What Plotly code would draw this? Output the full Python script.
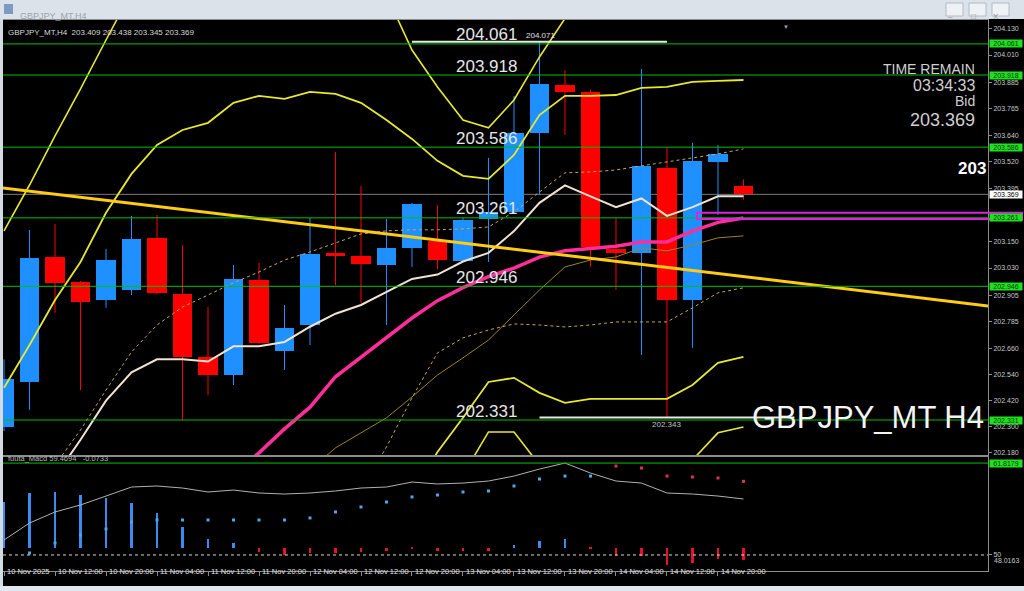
import plotly.graph_objects as go

# ---------------- data (H4 bars, index 0 = 10 Nov 04:00) ----------------
bar_index = list(range(30))
opens  = [202.300, 202.506, 203.081, 202.966, 202.883, 202.929, 203.169, 202.911, 202.621, 202.538,
          202.975, 202.649, 202.768, 203.100, 203.086, 203.044, 203.123, 203.155, 203.063, 203.256,
          203.288, 203.652, 203.872, 203.840, 203.118, 203.100, 203.491, 202.883, 203.518, 203.409]
highs  = [202.610, 203.205, 203.233, 202.970, 203.118, 203.270, 203.274, 203.136, 202.851, 203.044,
          203.054, 202.860, 203.261, 203.564, 203.408, 203.256, 203.330, 203.320, 203.260, 203.537,
          203.822, 204.071, 203.941, 203.850, 203.261, 203.946, 203.583, 203.606, 203.596, 203.438]
lows   = [202.280, 202.378, 202.824, 202.469, 202.847, 202.906, 202.910, 202.331, 202.446, 202.492,
          202.680, 202.561, 202.676, 202.952, 202.870, 202.768, 203.035, 203.026, 203.060, 203.058,
          203.280, 203.366, 203.642, 203.035, 202.929, 202.630, 202.343, 202.663, 203.274, 203.345]
closes = [202.520, 203.077, 202.962, 202.874, 203.067, 203.164, 202.916, 202.621, 202.538, 202.980,
          202.686, 202.755, 203.095, 203.086, 203.049, 203.123, 203.325, 203.067, 203.251, 203.288,
          203.652, 203.877, 203.840, 203.127, 203.100, 203.500, 202.883, 203.523, 203.555, 203.369]

ma_fast = [None, None, 202.07, 202.24, 202.42, 202.55, 202.61, 202.61, 202.60, 202.67,
           202.67, 202.69, 202.76, 202.82, 202.86, 202.92, 202.98, 203.00, 203.06, 203.10,
           203.20, 203.33, 203.41, 203.36, 203.31, 203.35, 203.27, 203.31, 203.36, 203.36]
ma_slow = [None] * 9 + [202.08, 202.18, 202.29, 202.39, 202.53, 202.62, 202.71, 202.80, 202.88, 202.94,
                        202.99, 203.03, 203.08, 203.11, 203.12, 203.13, 203.15, 203.15, 203.20, 203.24, 203.26]
ma_long = [None] * 12 + [202.101, 202.203, 202.272, 202.341, 202.437, 202.538, 202.617, 202.699,
                         202.814, 202.929, 203.035, 203.067, 203.081, 203.123, 203.109, 203.136,
                         203.169, 203.178]
band_up_inner = [202.479, 202.676, 202.883, 203.058, 203.284, 203.463, 203.596, 203.665, 203.698, 203.790,
                 203.822, 203.808, 203.840, 203.831, 203.790, 203.711, 203.624, 203.523, 203.454, 203.440,
                 203.550, 203.734, 203.822, 203.822, 203.826, 203.859, 203.863, 203.886, 203.891, 203.895]
band_dn_inner = [None] * 16 + [201.986, 202.184, 202.341, 202.506, 202.525, 202.456, 202.410, 202.428,
                               202.428, 202.428, 202.428, 202.492, 202.594, 202.621]
band_up_outer = [203.201, 203.412, 203.638, 203.854, 204.079, 204.300] + [None] * 9 + \
                [204.286, 204.033, 203.863, 203.711, 203.675, 203.803, 204.001, 204.181, 204.355] + [None] * 6
band_dn_outer = [None] * 18 + [202.078, 202.276, 202.276, 202.124] + [None] * 4 + \
                [202.009, 202.147, 202.272, 202.299]
env_up = [None, None, 202.124, 202.285, 202.469, 202.644, 202.768, 202.851, 202.906, 202.962,
          203.012, 203.067, 203.104, 203.146, 203.187, 203.201, 203.206, 203.206, 203.210, 203.219,
          203.288, 203.380, 203.468, 203.472, 203.481, 203.500, 203.518, 203.537, 203.555, 203.578]
env_dn = [None] * 14 + [202.009, 202.207, 202.433, 202.640, 202.709, 202.745, 202.773, 202.768,
                        202.759, 202.768, 202.782, 202.782, 202.782, 202.847, 202.916, 202.939]

trend_x = [-1, 39]
trend_y = [203.412, 202.850]

levels = [204.061, 203.918, 203.586, 203.261, 202.946, 202.331]
bid = 203.369
high_mark = (21, 204.071)
low_mark = (26, 202.343)
zone = (203.256, 203.284)

price_ticks = [204.130, 204.010, 203.885, 203.765, 203.640, 203.520, 203.395, 203.150,
               203.030, 202.905, 202.785, 202.660, 202.540, 202.420, 202.300, 202.180]

time_tick_index = [0, 2, 4, 6, 8, 10, 12, 14, 16, 18, 20, 22, 24, 26, 28]
time_tick_labels = ["10 Nov 2025", "10 Nov 12:00", "10 Nov 20:00", "11 Nov 04:00", "11 Nov 12:00",
                    "11 Nov 20:00", "12 Nov 04:00", "12 Nov 12:00", "12 Nov 20:00", "13 Nov 04:00",
                    "13 Nov 12:00", "13 Nov 20:00", "14 Nov 04:00", "14 Nov 12:00", "14 Nov 20:00"]

macd_signal = [51.93, 54.11, 55.53, 56.43, 57.58, 58.74, 58.87, 58.61, 58.10, 58.35,
               57.97, 57.84, 57.97, 58.23, 58.61, 58.74, 59.38, 59.13, 59.25, 59.51,
               60.15, 61.05, 61.82, 60.54, 59.51, 59.25, 57.97, 57.84, 57.58, 57.20]
macd_dots = [None, 50.26, 51.54, 52.57, 53.34, 54.24, 54.50, 54.50, 54.50, 54.50,
             54.50, 54.50, 54.76, 55.53, 56.17, 56.81, 57.46, 57.71, 58.10, 58.23,
             58.87, 59.77, 60.15, 60.15, 61.44, 61.18, 60.15, 60.03, 59.90, 59.47]
macd_hist = [56.81, 57.97, 58.10, 57.71, 57.33, 56.68, 55.40, 53.60, 52.06, 51.54,
             50.39, 50.00, 50.26, 50.26, 50.39, 50.51, 50.77, 50.51, 50.51, 50.51,
             51.29, 51.80, 52.06, 50.77, 49.87, 49.87, 48.71, 48.97, 49.49, 49.36]
macd_base = 50.96
macd_level = 61.8179
macd_mid = 50
macd_min = 48.0163

# ---------------- layout helpers (pixel -> paper) ----------------
W, H = 1024, 591
def PX(x): return x / W
def PY(y): return 1 - y / H

BLUE = "#1E90FF"
RED = "#FF0000"
GREEN = "#00C000"
AXC = "#8C8C8C"
TXT = "#C8C8C8"
FONT = "Liberation Sans, Arial, sans-serif"

fig = go.Figure()

# candle wicks
for col, cond in ((BLUE, True), (RED, False)):
    wx, wy = [], []
    for i in bar_index:
        if (closes[i] >= opens[i]) == cond:
            wx += [i, i, None]
            wy += [lows[i], highs[i], None]
    fig.add_trace(go.Scatter(x=wx, y=wy, mode="lines", line=dict(color=col, width=1),
                             hoverinfo="skip", xaxis="x", yaxis="y"))

# candle bodies
fig.add_trace(go.Bar(
    x=bar_index,
    y=[max(abs(c - o), 0.004) for o, c in zip(opens, closes)],
    base=[min(o, c) for o, c in zip(opens, closes)],
    width=0.78,
    marker=dict(color=[BLUE if c >= o else RED for o, c in zip(opens, closes)], line=dict(width=0)),
    hoverinfo="skip", xaxis="x", yaxis="y"))

def line(y, color, width, dash=None):
    fig.add_trace(go.Scatter(x=bar_index, y=y, mode="lines",
                             line=dict(color=color, width=width, dash=dash),
                             connectgaps=False, hoverinfo="skip", xaxis="x", yaxis="y"))

line(ma_long, "#9C8228", 1)
line(env_up, "#C8A55A", 1, "dot")
line(env_dn, "#C8A55A", 1, "dot")
line(band_up_outer, "#E8E830", 1.6)
line(band_dn_outer, "#E8E830", 1.6)
line(band_up_inner, "#E8E830", 1.8)
line(band_dn_inner, "#E8E830", 1.8)
line(ma_fast, "#F2E2D2", 2)
line(ma_slow, "#FF2E9A", 3.5)

# trend line
fig.add_trace(go.Scatter(x=trend_x, y=trend_y, mode="lines", line=dict(color="#FFCC14", width=3),
                         hoverinfo="skip", xaxis="x", yaxis="y"))

# high / low markers
fig.add_trace(go.Scatter(x=[high_mark[0] - 5, high_mark[0] + 5], y=[high_mark[1]] * 2, mode="lines",
                         line=dict(color="#E8E8E8", width=2), hoverinfo="skip", xaxis="x", yaxis="y"))
fig.add_trace(go.Scatter(x=[low_mark[0] - 5, low_mark[0] + 5], y=[low_mark[1]] * 2, mode="lines",
                         line=dict(color="#E8E8E8", width=2), hoverinfo="skip", xaxis="x", yaxis="y"))

# MACD panel
fig.add_trace(go.Bar(
    x=bar_index, y=[h - macd_base for h in macd_hist], base=[macd_base] * len(macd_hist), width=0.1,
    marker=dict(color=["#3C8CF0" if h > macd_base else "#E8102A" for h in macd_hist], line=dict(width=0)),
    hoverinfo="skip", xaxis="x2", yaxis="y2"))
fig.add_trace(go.Scatter(x=bar_index, y=macd_signal, mode="lines", line=dict(color="#B0B0B0", width=1),
                         hoverinfo="skip", xaxis="x2", yaxis="y2"))
fig.add_trace(go.Scatter(
    x=bar_index, y=macd_dots, mode="markers",
    marker=dict(symbol="square", size=3,
                color=["#E0305A" if (d is not None and d > s) else "#4AA8E8" for d, s in zip(macd_dots, macd_signal)]),
    hoverinfo="skip", xaxis="x2", yaxis="y2"))

shapes = []
# window chrome
shapes.append(dict(type="rect", xref="paper", yref="paper", x0=0, x1=1, y0=PY(19), y1=1,
                   fillcolor="#DCE2EA", line=dict(width=0), layer="above"))
shapes.append(dict(type="rect", xref="paper", yref="paper", x0=PX(4), x1=PX(13), y0=PY(14), y1=PY(4),
                   fillcolor="#7C9AC4", line=dict(width=0), layer="above"))
for bx in (946, 969, 992):
    shapes.append(dict(type="rect", xref="paper", yref="paper", x0=PX(bx), x1=PX(bx + 17), y0=PY(16), y1=PY(3),
                       fillcolor="#EEF1F5", line=dict(color="#B4BAC4", width=1), layer="above"))
shapes.append(dict(type="rect", xref="paper", yref="paper", x0=0, x1=PX(3), y0=0, y1=PY(19),
                   fillcolor="#D4DAE2", line=dict(width=0), layer="above"))
shapes.append(dict(type="rect", xref="paper", yref="paper", x0=0, x1=1, y0=0, y1=PY(586),
                   fillcolor="#E2E8F0", line=dict(width=0), layer="above"))
# panel separator
shapes.append(dict(type="line", xref="paper", yref="paper", x0=PX(3), x1=PX(988), y0=PY(456), y1=PY(456),
                   line=dict(color=AXC, width=2), layer="above"))
# level lines
for lv in levels:
    shapes.append(dict(type="line", xref="paper", yref="y", x0=PX(3), x1=PX(988), y0=lv, y1=lv,
                       line=dict(color=GREEN, width=1), layer="above"))
# bid line
shapes.append(dict(type="line", xref="paper", yref="y", x0=PX(3), x1=PX(988), y0=bid, y1=bid,
                   line=dict(color="#7A7A7A", width=1), layer="below"))
# magenta zone
shapes.append(dict(type="rect", xref="paper", yref="y", x0=PX(697), x1=PX(1022), y0=zone[0], y1=zone[1],
                   line=dict(color="#E020E0", width=2), layer="above"))
# macd levels
shapes.append(dict(type="line", xref="paper", yref="y2", x0=PX(3), x1=PX(988), y0=macd_level, y1=macd_level,
                   line=dict(color=GREEN, width=1), layer="above"))
shapes.append(dict(type="line", xref="paper", yref="y2", x0=PX(3), x1=PX(988), y0=macd_mid, y1=macd_mid,
                   line=dict(color="#D8D8D8", width=1, dash="dot"), layer="above"))

ann = []
# title bar text
ann.append(dict(xref="paper", yref="paper", x=PX(18), y=PY(9), text="GBPJPY_MT,H4", showarrow=False,
                xanchor="left", font=dict(family=FONT, size=9, color="#9CA3AE")))
for bx, g in ((946, "–"), (969, "□"), (992, "X")):
    ann.append(dict(xref="paper", yref="paper", x=PX(bx + 8.5), y=PY(9.5), text=g, showarrow=False,
                    font=dict(family=FONT, size=8, color="#8A909A")))
# header
ann.append(dict(xref="paper", yref="paper", x=PX(6), y=PY(26),
                text="GBPJPY_MT,H4  203.409 203.438 203.345 203.369", showarrow=False, xanchor="left",
                font=dict(family=FONT, size=8, color="#D8D8D8")))
ann.append(dict(xref="paper", yref="paper", x=PX(791), y=PY(22), text="▼", showarrow=False,
                font=dict(family=FONT, size=6, color="#A0A0A0")))
# big level labels
for lv in levels:
    ann.append(dict(xref="paper", yref="y", x=PX(486), y=lv, yshift=9, text=f"{lv:.3f}", showarrow=False,
                    font=dict(family=FONT, size=17, color="#E6E6E6")))
# high / low labels
ann.append(dict(xref="x", yref="y", x=high_mark[0] - 0.6, y=high_mark[1], yshift=6, text=f"{high_mark[1]:.3f}",
                showarrow=False, xanchor="left", font=dict(family=FONT, size=8, color="#E0E0E0")))
ann.append(dict(xref="x", yref="y", x=low_mark[0], y=low_mark[1], yshift=-7, text=f"{low_mark[1]:.3f}",
                showarrow=False, font=dict(family=FONT, size=8, color="#C0C0C0")))
# info block
for txt, py, sz in (("TIME REMAIN", 60, 14), ("03:34:33", 76, 16), ("Bid", 92, 14), (f"{bid:.3f}", 109, 18)):
    ann.append(dict(xref="paper", yref="paper", x=PX(976), y=PY(py), text=txt, showarrow=False,
                    xanchor="right", borderpad=0, font=dict(family=FONT, size=sz, color="#CFCFCF")))
ann.append(dict(xref="paper", yref="paper", x=PX(988), y=PY(157), text="<b>203</b>", showarrow=False,
                xanchor="right", font=dict(family=FONT, size=17, color="#FFFFFF")))
ann.append(dict(xref="paper", yref="paper", x=PX(986), y=PY(437), text="GBPJPY_MT H4", showarrow=False,
                xanchor="right", font=dict(family=FONT, size=31, color="#F4F4F4")))
# axis boxes
for lv in levels:
    ann.append(dict(xref="paper", yref="y", x=PX(989), y=lv, text=f"{lv:.3f}", showarrow=False,
                    xanchor="left", bgcolor="#20E020", borderpad=0, width=32,
                    font=dict(family=FONT, size=7, color="#0A3A0A")))
ann.append(dict(xref="paper", yref="y", x=PX(989), y=bid, text=f"{bid:.3f}", showarrow=False,
                xanchor="left", bgcolor="#FFFFFF", borderpad=0, width=32,
                font=dict(family=FONT, size=7, color="#000000")))
ann.append(dict(xref="paper", yref="y2", x=PX(989), y=macd_level, text=f"{macd_level:.4f}", showarrow=False,
                xanchor="left", bgcolor="#20E020", borderpad=0, width=32,
                font=dict(family=FONT, size=7, color="#0A3A0A")))
ann.append(dict(xref="paper", yref="paper", x=PX(992), y=PY(566), text=f"{macd_min:.4f}", showarrow=False,
                xanchor="left", font=dict(family=FONT, size=7, color=TXT)))
# macd header
ann.append(dict(xref="paper", yref="paper", x=PX(6), y=PY(465), text="fuuta_Macd 59.4694   -0.0733",
                showarrow=False, xanchor="left", font=dict(family=FONT, size=7.5, color="#B8B8B8")))
# time labels
for i, t in zip(time_tick_index, time_tick_labels):
    ann.append(dict(xref="x2", yref="paper", x=i, y=PY(578), text=t, showarrow=False, xanchor="left",
                    xshift=1, font=dict(family=FONT, size=7.5, color="#E4E4E4")))

xr = [-0.04, 38.59]
fig.update_layout(
    width=W, height=H, margin=dict(l=0, r=0, t=0, b=0),
    paper_bgcolor="#000000", plot_bgcolor="#000000", showlegend=False, bargap=0,
    xaxis=dict(domain=[PX(3), PX(988)], range=xr, anchor="y", showgrid=False, zeroline=False,
               showticklabels=False, showline=True, linecolor=AXC, mirror=True),
    yaxis=dict(domain=[PY(455), PY(20)], range=[202.170, 204.171], anchor="x", side="right",
               tickvals=price_ticks, ticktext=[f"{p:.3f}" for p in price_ticks],
               tickfont=dict(family=FONT, size=7, color=TXT), ticks="outside", ticklen=3,
               tickcolor=AXC, showline=True, linecolor=AXC, showgrid=False, zeroline=False),
    xaxis2=dict(domain=[PX(3), PX(988)], range=xr, anchor="y2", showgrid=False, zeroline=False,
                tickvals=time_tick_index, showticklabels=False, ticks="outside", ticklen=4,
                tickcolor=AXC, showline=True, linecolor=AXC, mirror=True),
    yaxis2=dict(domain=[PY(571), PY(457)], range=[47.94, 62.60], anchor="x2", side="right",
                tickvals=[macd_mid], ticktext=["50"], tickfont=dict(family=FONT, size=7, color=TXT),
                ticks="outside", ticklen=3, tickcolor=AXC, showline=True, linecolor=AXC,
                showgrid=False, zeroline=False),
    shapes=shapes, annotations=ann,
)

fig.write_html("out.html", config={"displayModeBar": False},
               post_script="document.body.style.margin='0';document.body.style.overflow='hidden';")
